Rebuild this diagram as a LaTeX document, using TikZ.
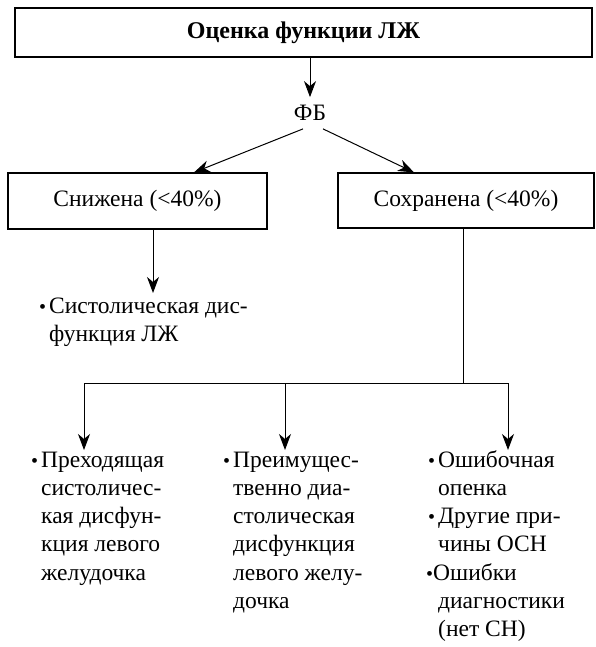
\documentclass[tikz,border=0pt]{standalone}
\usepackage{fontspec}
\setmainfont{Liberation Serif}
\usetikzlibrary{arrows.meta}
\tikzset{
  box/.style={draw, line width=1.2pt, inner sep=0pt, font=\fontsize{23.5}{28.3}\selectfont},
  arr/.style={-{Stealth[length=16pt,width=12pt,inset=5pt]}, line width=1pt},
  ln/.style={line width=1pt},
  txt/.style={inner sep=0pt, anchor=base west, font=\fontsize{23.5}{28.3}\selectfont},
}
\newcommand\bulglyph{{\fontsize{20}{20}\selectfont •}}
\newcommand\bul{\llap{\bulglyph\hspace{3pt}}}
\begin{document}
\begin{tikzpicture}[x=1pt,y=-1pt]
\useasboundingbox (0,0) rectangle (595,647);
\node[box, minimum width=577pt, minimum height=49pt, font=\fontsize{24}{28}\selectfont\bfseries] (title) at (303.5,32.5) {Оценка функции ЛЖ};
\node[inner sep=0pt, font=\fontsize{23.5}{28.3}\selectfont] (fb) at (310,113) {ФБ};
\node[box, minimum width=259pt, minimum height=56pt] (low) at (137.5,201) {Снижена (<40\%)};
\node[box, minimum width=256pt, minimum height=55pt] (pres) at (466,200.5) {Сохранена (<40\%)};
\node[txt] (sys) at (49,313) {\begin{tabular}[t]{@{}l@{}}\bul Систолическая дис-\\функция ЛЖ\end{tabular}};
\node[txt] (c1) at (41,467) {\begin{tabular}[t]{@{}l@{}}\bul Преходящая\\систоличес-\\кая дисфун-\\кция левого\\желудочка\end{tabular}};
\node[txt] (c2) at (233,467) {\begin{tabular}[t]{@{}l@{}}\bul Преимущес-\\твенно диа-\\столическая\\дисфункция\\левого желу-\\дочка\end{tabular}};
\node[txt] (c3) at (438,467) {\begin{tabular}[t]{@{}l@{}}\bul Ошибочная\\опенка\\\bul Другие при-\\чины ОСН\\\hspace*{-5pt}\llap{\bulglyph}Ошибки\\диагностики\\(нет СН)\end{tabular}};
\coordinate (ts) at (153,293);
\coordinate (j) at (463,383);
\coordinate (h1) at (84,383);
\coordinate (h2) at (285,383);
\coordinate (h3) at (508,383);
\coordinate (t1) at (84,450);
\coordinate (t2) at (285,450);
\coordinate (t3) at (508,450);
\draw[arr] (title.south -| fb) -- ([yshift=8pt]fb.north);
\draw[arr] ([xshift=-7pt,yshift=-8pt]fb.south) -- ([xshift=56.5pt]low.north);
\draw[arr] ([xshift=13pt,yshift=-8pt]fb.south) -- ([xshift=-52pt]pres.north);
\draw[arr] ([xshift=15.5pt]low.south) -- (ts);
\draw[ln] ([xshift=-3pt]pres.south) -- (j);
\draw[ln] (h1) -- (h3);
\draw[arr] (h1) -- (t1);
\draw[arr] (h2) -- (t2);
\draw[arr] (h3) -- (t3);
\end{tikzpicture}
\end{document}
